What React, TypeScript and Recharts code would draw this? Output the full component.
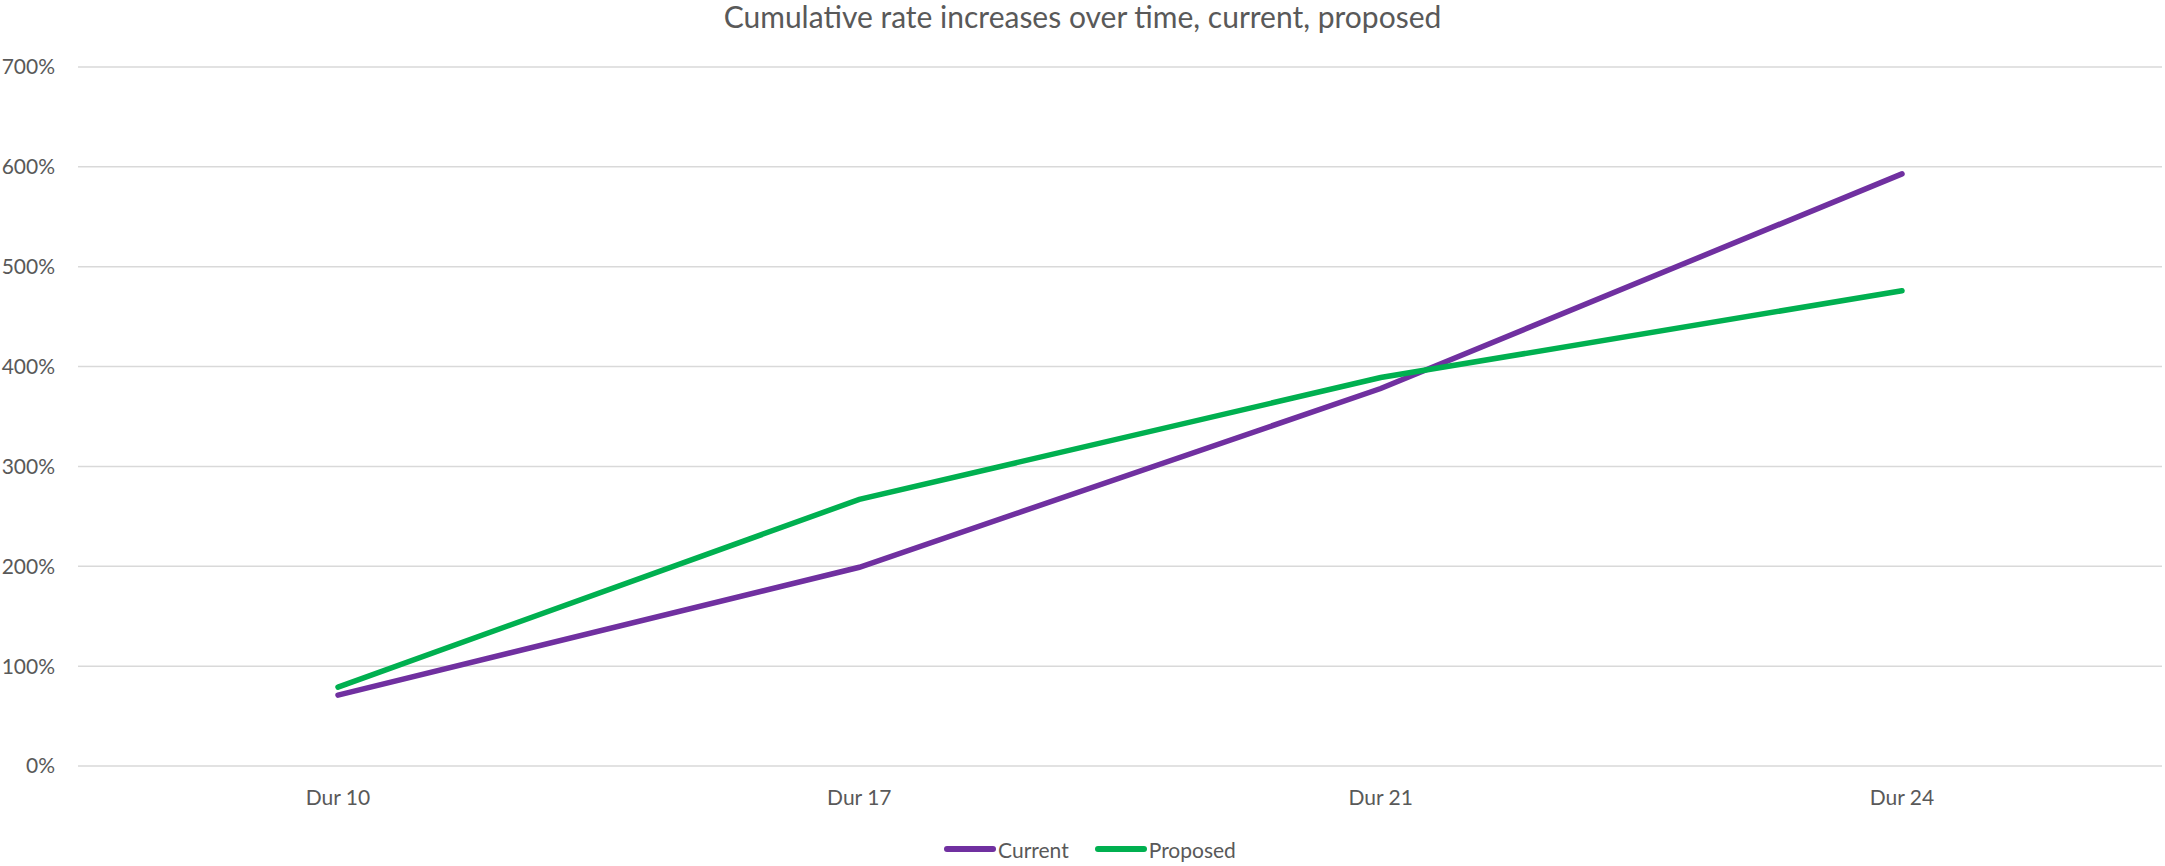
import { LineChart, Line, XAxis, YAxis, CartesianGrid } from "recharts";

const categories = ["Dur 10", "Dur 17", "Dur 21", "Dur 24"];
const current = [71, 199, 378, 593];
const proposed = [79, 267, 389, 476];
const yTicks = [0, 100, 200, 300, 400, 500, 600, 700];

const series = [
  { key: "current", name: "Current", color: "#7030A0" },
  { key: "proposed", name: "Proposed", color: "#00B050" },
];

const FONT = "Lato, 'Open Sans', sans-serif";
const TEXT = "#595959";

const data = categories.map((c, i) => ({
  name: c,
  current: current[i],
  proposed: proposed[i],
}));

export default function App() {
  return (
    <div
      style={{
        position: "absolute",
        left: 0,
        top: 0,
        width: 2165,
        height: 866,
        background: "#fff",
        fontFamily: FONT,
      }}
    >
      <div
        style={{
          position: "absolute",
          top: 1,
          left: 0,
          width: 2165,
          textAlign: "center",
          fontSize: 30,
          lineHeight: "30px",
          color: TEXT,
        }}
      >
        Cumulative rate increases over time, current, proposed
      </div>
      <LineChart
        width={2165}
        height={866}
        data={data}
        margin={{ top: 67, right: 3, bottom: 70, left: 0 }}
      >
        <CartesianGrid vertical={false} stroke="#d9d9d9" strokeWidth={1.5} />
        <XAxis
          dataKey="name"
          height={30}
          axisLine={false}
          tickLine={false}
          tickSize={0}
          tickMargin={24}
          padding={{ left: 260, right: 260 }}
          tick={{ fill: TEXT, fontSize: 21, fontFamily: FONT }}
        />
        <YAxis
          width={78}
          domain={[0, 700]}
          ticks={yTicks}
          interval={0}
          axisLine={false}
          tickLine={false}
          tickSize={0}
          tickMargin={23}
          tickFormatter={(v) => `${v}%`}
          tick={{ fill: TEXT, fontSize: 21, fontFamily: FONT }}
        />
        {series.map((s) => (
          <Line
            key={s.key}
            type="linear"
            dataKey={s.key}
            name={s.name}
            stroke={s.color}
            strokeWidth={5.5}
            strokeLinecap="round"
            dot={false}
            activeDot={false}
            isAnimationActive={false}
          />
        ))}
      </LineChart>
      <div
        style={{
          position: "absolute",
          left: 0,
          width: 2180,
          top: 836,
          height: 26,
          display: "flex",
          justifyContent: "center",
          alignItems: "center",
          fontSize: 21,
          color: TEXT,
        }}
      >
        {series.map((s, i) => (
          <div
            key={s.key}
            style={{ display: "flex", alignItems: "center", marginLeft: i === 0 ? 0 : 26 }}
          >
            <div
              style={{
                width: 52,
                height: 5.5,
                borderRadius: 3,
                background: s.color,
                marginRight: 2,
              }}
            />
            <span>{s.name}</span>
          </div>
        ))}
      </div>
    </div>
  );
}
